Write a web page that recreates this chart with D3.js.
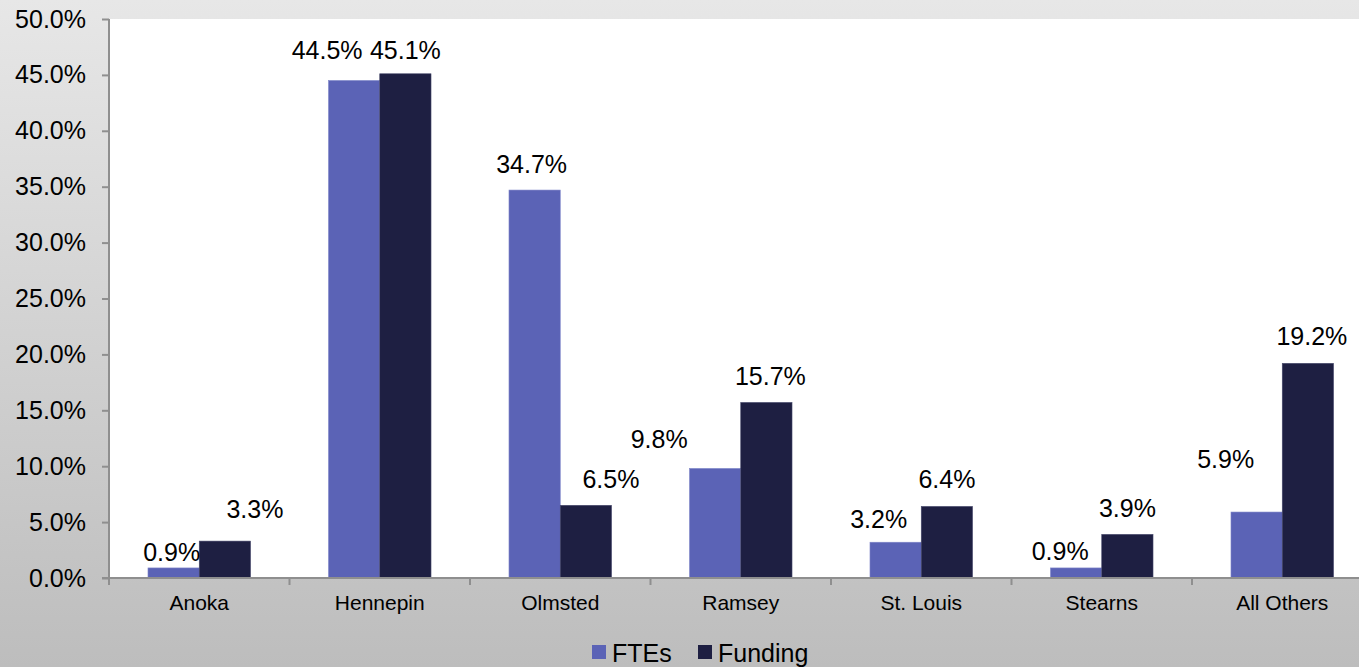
<!DOCTYPE html>
<html>
<head>
<meta charset="utf-8">
<script src="https://cdn.jsdelivr.net/npm/d3@7"></script>
<style>
	html, body { margin: 0; padding: 0; }
	body { width: 1359px; height: 667px; overflow: hidden; }
	text { font-family: 'Liberation Sans', Arial, sans-serif; fill: #000; }
</style>
</head>
<body>
<div id="chart"></div>
<script>
let categories	= ['Anoka', 'Hennepin', 'Olmsted', 'Ramsey', 'St. Louis', 'Stearns', 'All Others'];
let seriesNames	= ['FTEs', 'Funding'];
let ftes		= [0.9, 44.5, 34.7, 9.8, 3.2, 0.9, 5.9];
let funding		= [3.3, 45.1, 6.5, 15.7, 6.4, 3.9, 19.2];
let yTicks		= [0, 5, 10, 15, 20, 25, 30, 35, 40, 45, 50];

// hand-placed label nudges [dx, dy] as in the original, FTEs then Funding
let fteNudge	= [[-2, 10], [-27, -4], [-3, 0], [-56, -3], [-17, 3], [-16, 9], [-31, -27]];
let fundNudge	= [[30, -6], [0, 2], [25, 0], [4, 0], [0, -1], [0, 0], [4, -1]];

let colors		= { FTEs: '#5b63b6', Funding: '#1e1f42' };

let width	= 1359;
let height	= 667;
let margin	= { top: 19, left: 109, bottom: 89 };
let step	= 180.5;

let svg = d3.select('#chart').append('svg')
	.attr('width', width)
	.attr('height', height);

let grad = svg.append('defs').append('linearGradient')
	.attr('id', 'bg')
	.attr('x1', 0).attr('y1', 0).attr('x2', 0).attr('y2', 1);
grad.append('stop').attr('offset', '0%').attr('stop-color', '#e7e7e7');
grad.append('stop').attr('offset', '100%').attr('stop-color', '#bdbdbd');

svg.append('rect')
	.attr('width', width)
	.attr('height', height)
	.attr('fill', 'url(#bg)');

let plotBottom	= height - margin.bottom;

let y = d3.scaleLinear()
	.domain([0, 50])
	.range([plotBottom, margin.top]);

let x0 = d3.scaleBand()
	.domain(categories)
	.range([margin.left, margin.left + step * categories.length]);

let gap = x0.bandwidth() * 0.216;
let x1 = d3.scaleBand()
	.domain(seriesNames)
	.range([gap, x0.bandwidth() - gap]);

svg.append('rect')
	.attr('x', margin.left + 1)
	.attr('y', margin.top)
	.attr('width', width - margin.left - 1)
	.attr('height', plotBottom - margin.top)
	.attr('fill', '#fff');

let rows = categories.map((c, i) => ({
	cat: c,
	vals: [
		{ key: 'FTEs', v: ftes[i], nudge: fteNudge[i] },
		{ key: 'Funding', v: funding[i], nudge: fundNudge[i] }
	]
}));

let groups = svg.append('g').selectAll('g.cat')
	.data(rows).enter().append('g')
		.attr('class', 'cat')
		.attr('transform', d => 'translate(' + x0(d.cat) + ',0)');

groups.selectAll('rect')
	.data(d => d.vals).enter().append('rect')
		.attr('x', d => x1(d.key))
		.attr('y', d => y(d.v))
		.attr('width', x1.bandwidth())
		.attr('height', d => plotBottom - y(d.v))
		.attr('fill', d => colors[d.key])
		.attr('stroke', d => d.key === 'FTEs' ? '#7f86c8' : '#45476a')
		.attr('stroke-width', 0.6);

groups.selectAll('text.lbl')
	.data(d => d.vals).enter().append('text')
		.attr('class', 'lbl')
		.attr('x', d => x1(d.key) + x1.bandwidth() / 2 + d.nudge[0])
		.attr('y', d => y(d.v) - 17 + d.nudge[1])
		.attr('text-anchor', 'middle')
		.style('font-size', '25px')
		.text(d => d.v.toFixed(1) + '%');

// y axis
let yAxis = svg.append('g')
	.attr('transform', 'translate(' + margin.left + ',0)')
	.call(d3.axisLeft(y).tickValues(yTicks).tickSize(7).tickPadding(16).tickFormat(d => d.toFixed(1) + '%'));
yAxis.selectAll('text').style('font-size', '25px').attr('fill', '#000');
yAxis.select('.domain').attr('stroke', '#8f8f8f').attr('stroke-width', 2).attr('d', 'M0,' + margin.top + 'V' + plotBottom);
yAxis.selectAll('.tick line').attr('stroke', '#8f8f8f').attr('stroke-width', 2);

// x axis
let bounds = categories.map(c => x0(c)).concat([x0.range()[1]]);
let xAxis = svg.append('g');
xAxis.append('line')
	.attr('x1', margin.left - 7)
	.attr('x2', width)
	.attr('y1', plotBottom)
	.attr('y2', plotBottom)
	.attr('stroke', '#8f8f8f')
	.attr('stroke-width', 2);
xAxis.selectAll('line.tk')
	.data(bounds).enter().append('line')
		.attr('class', 'tk')
		.attr('x1', d => d).attr('x2', d => d)
		.attr('y1', plotBottom).attr('y2', plotBottom + 7)
		.attr('stroke', '#8f8f8f')
		.attr('stroke-width', 2);
xAxis.selectAll('text')
	.data(categories).enter().append('text')
		.attr('x', d => x0(d) + x0.bandwidth() / 2)
		.attr('y', plotBottom + 32)
		.attr('text-anchor', 'middle')
		.style('font-size', '21px')
		.text(d => d);

// legend
let legend = svg.append('g').attr('transform', 'translate(592,662)');
let lx = [0, 106];
seriesNames.forEach((s, i) => {
	legend.append('rect')
		.attr('x', lx[i])
		.attr('y', -17)
		.attr('width', 14)
		.attr('height', 14)
		.attr('fill', colors[s]);
	legend.append('text')
		.attr('x', lx[i] + 20)
		.attr('y', 0)
		.style('font-size', '25px')
		.text(s);
});
</script>
</body>
</html>
